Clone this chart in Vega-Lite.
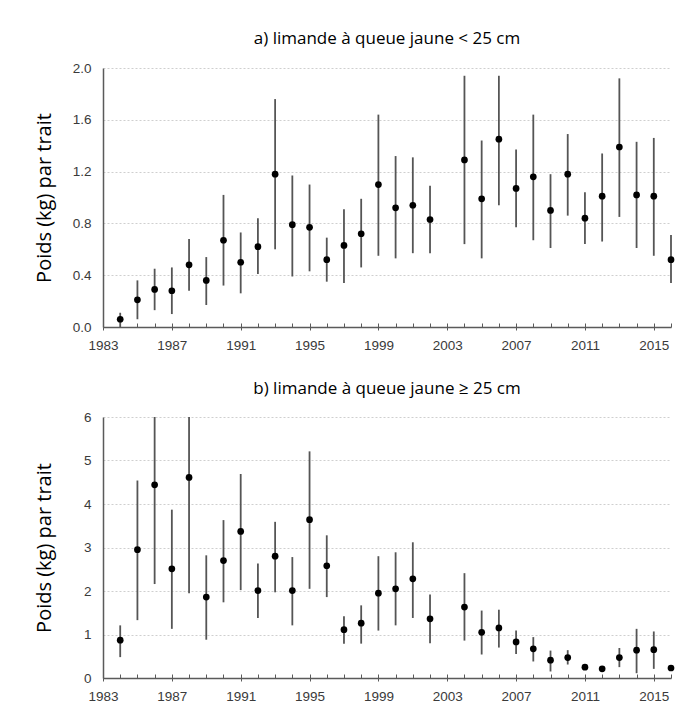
{
  "$schema": "https://vega.github.io/schema/vega-lite/v6.json",
  "background": "white",
  "padding": {"left": 34, "top": 30, "right": 4, "bottom": 2},
  "spacing": 28,
  "config": {
    "font": "Liberation Sans",
    "view": {"stroke": null},
    "axis": {
      "labelFont": "Liberation Sans",
      "labelFontSize": 13.5,
      "labelColor": "#3a3a3a",
      "domainColor": "#5a5a5a",
      "domainWidth": 1.5,
      "tickColor": "#5a5a5a",
      "titleFont": "Open Sans",
      "titleFontSize": 20,
      "titleFontWeight": "normal",
      "titleColor": "#000000"
    },
    "title": {"font": "Open Sans", "fontSize": 17, "fontWeight": "normal", "color": "#000000", "anchor": "middle"}
  },
  "datasets": {
    "a": [
      {"year": 1984, "v": 0.06, "lo": 0.0, "hi": 0.11},
      {"year": 1985, "v": 0.21, "lo": 0.06, "hi": 0.36},
      {"year": 1986, "v": 0.29, "lo": 0.13, "hi": 0.45},
      {"year": 1987, "v": 0.28, "lo": 0.10, "hi": 0.46},
      {"year": 1988, "v": 0.48, "lo": 0.28, "hi": 0.68},
      {"year": 1989, "v": 0.36, "lo": 0.17, "hi": 0.54},
      {"year": 1990, "v": 0.67, "lo": 0.32, "hi": 1.02},
      {"year": 1991, "v": 0.50, "lo": 0.26, "hi": 0.73},
      {"year": 1992, "v": 0.62, "lo": 0.41, "hi": 0.84},
      {"year": 1993, "v": 1.18, "lo": 0.60, "hi": 1.76},
      {"year": 1994, "v": 0.79, "lo": 0.39, "hi": 1.17},
      {"year": 1995, "v": 0.77, "lo": 0.43, "hi": 1.10},
      {"year": 1996, "v": 0.52, "lo": 0.35, "hi": 0.69},
      {"year": 1997, "v": 0.63, "lo": 0.34, "hi": 0.91},
      {"year": 1998, "v": 0.72, "lo": 0.46, "hi": 0.99},
      {"year": 1999, "v": 1.10, "lo": 0.55, "hi": 1.64},
      {"year": 2000, "v": 0.92, "lo": 0.53, "hi": 1.32},
      {"year": 2001, "v": 0.94, "lo": 0.57, "hi": 1.31},
      {"year": 2002, "v": 0.83, "lo": 0.57, "hi": 1.09},
      {"year": 2004, "v": 1.29, "lo": 0.64, "hi": 1.94},
      {"year": 2005, "v": 0.99, "lo": 0.53, "hi": 1.44},
      {"year": 2006, "v": 1.45, "lo": 0.94, "hi": 1.94},
      {"year": 2007, "v": 1.07, "lo": 0.77, "hi": 1.37},
      {"year": 2008, "v": 1.16, "lo": 0.67, "hi": 1.64},
      {"year": 2009, "v": 0.90, "lo": 0.61, "hi": 1.18},
      {"year": 2010, "v": 1.18, "lo": 0.86, "hi": 1.49},
      {"year": 2011, "v": 0.84, "lo": 0.64, "hi": 1.04},
      {"year": 2012, "v": 1.01, "lo": 0.66, "hi": 1.34},
      {"year": 2013, "v": 1.39, "lo": 0.85, "hi": 1.92},
      {"year": 2014, "v": 1.02, "lo": 0.61, "hi": 1.43},
      {"year": 2015, "v": 1.01, "lo": 0.55, "hi": 1.46},
      {"year": 2016, "v": 0.52, "lo": 0.34, "hi": 0.71}
    ],
    "b": [
      {"year": 1984, "v": 0.87, "lo": 0.48, "hi": 1.21},
      {"year": 1985, "v": 2.95, "lo": 1.33, "hi": 4.54},
      {"year": 1986, "v": 4.44, "lo": 2.16, "hi": 6.0},
      {"year": 1987, "v": 2.51, "lo": 1.13, "hi": 3.87},
      {"year": 1988, "v": 4.61, "lo": 1.95, "hi": 6.0},
      {"year": 1989, "v": 1.86, "lo": 0.88, "hi": 2.82},
      {"year": 1990, "v": 2.70, "lo": 1.74, "hi": 3.63},
      {"year": 1991, "v": 3.37, "lo": 2.02, "hi": 4.69},
      {"year": 1992, "v": 2.01, "lo": 1.38, "hi": 2.63},
      {"year": 1993, "v": 2.80, "lo": 1.97, "hi": 3.59},
      {"year": 1994, "v": 2.01, "lo": 1.21, "hi": 2.78},
      {"year": 1995, "v": 3.64, "lo": 2.05, "hi": 5.21},
      {"year": 1996, "v": 2.58, "lo": 1.86, "hi": 3.28},
      {"year": 1997, "v": 1.11, "lo": 0.79, "hi": 1.42},
      {"year": 1998, "v": 1.26, "lo": 0.79, "hi": 1.67},
      {"year": 1999, "v": 1.95, "lo": 1.09, "hi": 2.80},
      {"year": 2000, "v": 2.05, "lo": 1.21, "hi": 2.89},
      {"year": 2001, "v": 2.28, "lo": 1.38, "hi": 3.12},
      {"year": 2002, "v": 1.36, "lo": 0.80, "hi": 1.92},
      {"year": 2004, "v": 1.63, "lo": 0.86, "hi": 2.41},
      {"year": 2005, "v": 1.05, "lo": 0.54, "hi": 1.55},
      {"year": 2006, "v": 1.15, "lo": 0.70, "hi": 1.57},
      {"year": 2007, "v": 0.83, "lo": 0.55, "hi": 1.09},
      {"year": 2008, "v": 0.67, "lo": 0.38, "hi": 0.94},
      {"year": 2009, "v": 0.41, "lo": 0.15, "hi": 0.63},
      {"year": 2010, "v": 0.47, "lo": 0.31, "hi": 0.64},
      {"year": 2011, "v": 0.25, "lo": 0.20, "hi": 0.30},
      {"year": 2012, "v": 0.21, "lo": 0.16, "hi": 0.26},
      {"year": 2013, "v": 0.47, "lo": 0.25, "hi": 0.69},
      {"year": 2014, "v": 0.64, "lo": 0.11, "hi": 1.13},
      {"year": 2015, "v": 0.65, "lo": 0.21, "hi": 1.07},
      {"year": 2016, "v": 0.23, "lo": 0.18, "hi": 0.28}
    ]
  },
  "vconcat": [
    {
      "title": {"text": "a) limande à queue jaune < 25 cm", "offset": 13},
      "width": 568,
      "height": 259,
      "data": {"name": "a"},
      "layer": [
        {
          "mark": {"type": "rule", "color": "#555555", "strokeWidth": 1.8},
          "encoding": {
            "x": {"field": "year", "type": "quantitative", "scale": {"domain": [1983, 2016], "nice": false, "zero": false},
                  "axis": {"orient": "bottom", "title": null, "labels": false, "values": [1983,1984,1985,1986,1987,1988,1989,1990,1991,1992,1993,1994,1995,1996,1997,1998,1999,2000,2001,2002,2003,2004,2005,2006,2007,2008,2009,2010,2011,2012,2013,2014,2015,2016], "tickSize": -4, "grid": false, "domain": true}},
            "y": {"field": "lo", "type": "quantitative", "scale": {"domain": [0, 2], "nice": false},
                  "axis": {"title": "Poids (kg) par trait", "values": [0, 0.4, 0.8, 1.2, 1.6, 2.0], "format": ".1f", "ticks": false, "labelPadding": 12, "titlePadding": 18, "grid": true, "gridColor": "#cfcfcf", "gridDash": [2, 2], "gridWidth": 1}},
            "y2": {"field": "hi"}
          }
        },
        {
          "mark": {"type": "point", "filled": true, "color": "#000000", "size": 45, "opacity": 1},
          "encoding": {
            "x": {"field": "year", "type": "quantitative", "scale": {"domain": [1983, 2016], "nice": false, "zero": false},
                  "axis": {"orient": "bottom", "title": null, "values": [1983, 1987, 1991, 1995, 1999, 2003, 2007, 2011, 2015], "format": "d", "tickSize": 3, "labelPadding": 8, "labelFlush": false, "domain": false, "grid": false}},
            "y": {"field": "v", "type": "quantitative"}
          }
        }
      ],
      "resolve": {"axis": {"x": "independent"}}
    },
    {
      "title": {"text": "b) limande à queue jaune ≥ 25 cm", "offset": 12},
      "width": 568,
      "height": 261,
      "data": {"name": "b"},
      "layer": [
        {
          "mark": {"type": "rule", "color": "#555555", "strokeWidth": 1.8},
          "encoding": {
            "x": {"field": "year", "type": "quantitative", "scale": {"domain": [1983, 2016], "nice": false, "zero": false},
                  "axis": {"orient": "bottom", "title": null, "labels": false, "values": [1983,1984,1985,1986,1987,1988,1989,1990,1991,1992,1993,1994,1995,1996,1997,1998,1999,2000,2001,2002,2003,2004,2005,2006,2007,2008,2009,2010,2011,2012,2013,2014,2015,2016], "tickSize": -4, "grid": false, "domain": true}},
            "y": {"field": "lo", "type": "quantitative", "scale": {"domain": [0, 6], "nice": false},
                  "axis": {"title": "Poids (kg) par trait", "values": [0, 1, 2, 3, 4, 5, 6], "format": "d", "ticks": false, "labelPadding": 12, "titlePadding": 29, "grid": true, "gridColor": "#cfcfcf", "gridDash": [2, 2], "gridWidth": 1}},
            "y2": {"field": "hi"}
          }
        },
        {
          "mark": {"type": "point", "filled": true, "color": "#000000", "size": 45, "opacity": 1},
          "encoding": {
            "x": {"field": "year", "type": "quantitative", "scale": {"domain": [1983, 2016], "nice": false, "zero": false},
                  "axis": {"orient": "bottom", "title": null, "values": [1983, 1987, 1991, 1995, 1999, 2003, 2007, 2011, 2015], "format": "d", "tickSize": 3, "labelPadding": 8, "labelFlush": false, "domain": false, "grid": false}},
            "y": {"field": "v", "type": "quantitative"}
          }
        }
      ],
      "resolve": {"axis": {"x": "independent"}}
    }
  ]
}
